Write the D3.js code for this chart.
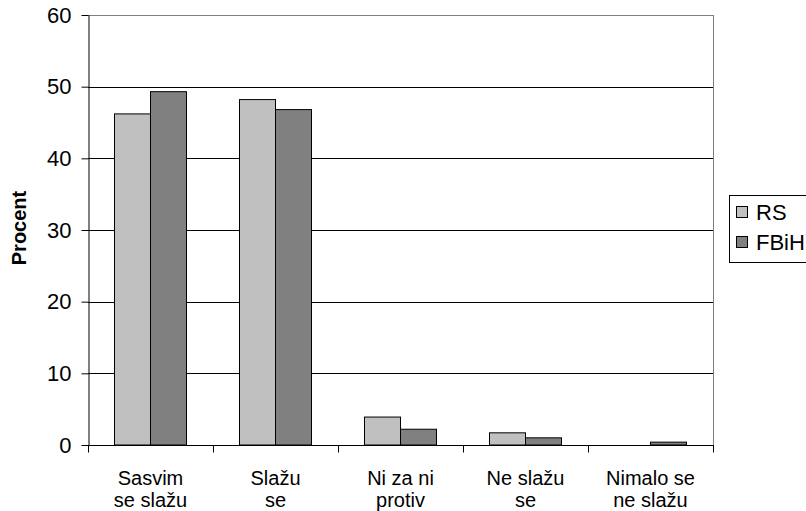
<!DOCTYPE html>
<html><head><meta charset="utf-8">
<script src="https://cdn.jsdelivr.net/npm/d3@7"></script>
<style>body{margin:0;background:#fff}svg{display:block}text{font-family:"Liberation Sans",Arial,sans-serif}</style>
</head><body>
<svg id="c" width="806" height="511"></svg>
<script>
const categories = [["Sasvim","se slažu"],["Slažu","se"],["Ni za ni","protiv"],["Ne slažu","se"],["Nimalo se","ne slažu"]];
const seriesNames = ["RS","FBiH"];
const rsValues = [46.2, 48.2, 3.9, 1.7, 0];
const fbihValues = [49.3, 46.8, 2.2, 1.0, 0.4];
const yTicks = [0,10,20,30,40,50,60];
const colors = ["#c0c0c0","#808080"];

const svg = d3.select("#c");
const L=88, R=713, T=15, B=445;
const x = d3.scaleBand().domain(d3.range(categories.length)).range([L,R]).paddingInner(0.424).paddingOuter(0.212);
const x1 = d3.scaleBand().domain(seriesNames).range([0,x.bandwidth()]);
const y = d3.scaleLinear().domain([0,60]).range([B,T]);

// grid
svg.append("g").selectAll("line").data(yTicks.filter(d=>d>0)).join("line")
  .attr("x1",L).attr("x2",R).attr("y1",d=>Math.round(y(d))+0.5).attr("y2",d=>Math.round(y(d))+0.5)
  .attr("stroke",d=>d===60?"#808080":"#000").attr("stroke-width",1);
svg.append("line").attr("x1",R+0.5).attr("x2",R+0.5).attr("y1",T).attr("y2",B).attr("stroke","#808080");

// bars
const data = categories.map((c,i)=>({i, vals:[rsValues[i], fbihValues[i]]}));
const g = svg.append("g");
data.forEach(d=>{
  d.vals.forEach((v,j)=>{
    if(v<=0) return;
    g.append("rect")
      .attr("x", x(d.i)+x1(seriesNames[j]))
      .attr("y", y(v))
      .attr("width", x1.bandwidth())
      .attr("height", B - y(v))
      .attr("fill", colors[j]).attr("stroke","#000").attr("stroke-width",1);
  });
});

// y axis
const ya = svg.append("g").attr("transform",`translate(${L+0.5},0)`)
  .call(d3.axisLeft(y).tickValues(yTicks).tickSize(7).tickSizeOuter(0).tickPadding(10));
ya.select(".domain").attr("stroke","#000");
ya.selectAll("line").attr("stroke","#000");
ya.selectAll("text").attr("font-size","22px").attr("fill","#000");

// x axis
const xa = svg.append("g").attr("transform",`translate(0,${B+0.5})`);
xa.append("line").attr("x1",L).attr("x2",R+1).attr("stroke","#000");
const bounds = d3.range(categories.length+1).map(i=> L + i*(R-L)/categories.length);
xa.selectAll("line.t").data(bounds).join("line").attr("class","t")
  .attr("x1",d=>Math.round(d)+0.5).attr("x2",d=>Math.round(d)+0.5).attr("y1",0).attr("y2",7).attr("stroke","#000");
categories.forEach((c,i)=>{
  const t = svg.append("text").attr("text-anchor","middle").attr("font-size","20px").attr("fill","#000");
  c.forEach((line,k)=>{
    t.append("tspan").attr("x", x(i)+x.bandwidth()/2).attr("y", B+40+k*22).text(line);
  });
});

// y title
svg.append("text").attr("transform","translate(26,228) rotate(-90)").attr("text-anchor","middle")
  .attr("font-size","20px").attr("font-weight","bold").attr("fill","#000").text("Procent");

// legend
const lg = svg.append("g");
lg.append("rect").attr("x",729.5).attr("y",195.5).attr("width",90).attr("height",67).attr("fill","#fff").attr("stroke","#000");
seriesNames.forEach((s,j)=>{
  lg.append("rect").attr("x",736.5).attr("y",206.5+j*30).attr("width",11).attr("height",11).attr("fill",colors[j]).attr("stroke","#000");
  lg.append("text").attr("x",756).attr("y",220+j*30).attr("font-size","22px").attr("fill","#000").text(s);
});
</script>
</body></html>
